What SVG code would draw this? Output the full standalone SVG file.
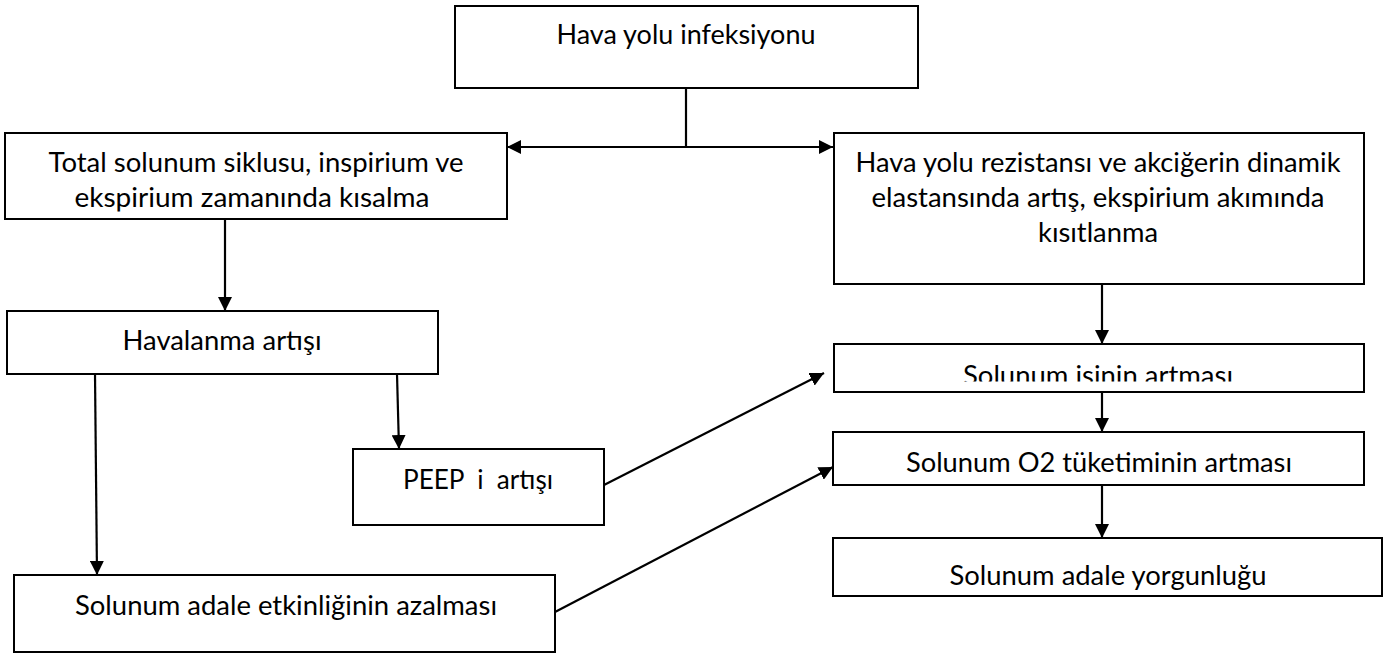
<svg xmlns="http://www.w3.org/2000/svg" width="1397" height="653" viewBox="0 0 1397 653">
<style>
.box{fill:#fff;stroke:#000;stroke-width:2}
.t{font-family:Lato,"Liberation Sans",sans-serif;font-size:26px;fill:#000;text-anchor:middle}
.c{fill:none;stroke:#000;stroke-width:2.2}
</style>
<defs>
<marker id="ah" markerWidth="14" markerHeight="14" refX="14" refY="7" orient="auto-start-reverse" markerUnits="userSpaceOnUse"><path d="M0,0 L14,7 L0,14 z" fill="#000"/></marker>
<clipPath id="clipA"><rect x="0" y="120" width="520" height="91.5"/></clipPath>
<clipPath id="clipB"><rect x="834" y="344" width="530" height="37.5"/></clipPath>
</defs>
<rect width="1397" height="653" fill="#fff"/>
<g id="connectors">
<path class="c" d="M686,88 V147"/>
<path class="c" d="M507,147 H833" marker-start="url(#ah)" marker-end="url(#ah)"/>
<path class="c" d="M225,219 V311" marker-end="url(#ah)"/>
<path class="c" d="M95,374 L97,575" marker-end="url(#ah)"/>
<path class="c" d="M397,374 L399,449" marker-end="url(#ah)"/>
<path class="c" d="M604,485 L824,373" marker-end="url(#ah)"/>
<path class="c" d="M555,612 L833,467" marker-end="url(#ah)"/>
<path class="c" d="M1102,284 V344" marker-end="url(#ah)"/>
<path class="c" d="M1102,392 V432" marker-end="url(#ah)"/>
<path class="c" d="M1102,485 V538" marker-end="url(#ah)"/>
</g>
<g id="n1"><rect class="box" x="455" y="6" width="463" height="82"/><text class="t" x="686" y="44" textLength="259" lengthAdjust="spacingAndGlyphs">Hava yolu infeksiyonu</text></g>
<g id="n2"><rect class="box" x="5" y="133" width="502" height="86"/>
<g clip-path="url(#clipA)"><text class="t" x="256" y="172" textLength="415" lengthAdjust="spacingAndGlyphs">Total solunum siklusu, inspirium ve</text>
<text class="t" x="252" y="207" textLength="355" lengthAdjust="spacingAndGlyphs">ekspirium zamanında kısalma</text></g></g>
<g id="n3"><rect class="box" x="834" y="133" width="530" height="151"/>
<text class="t" x="1098" y="172" textLength="485" lengthAdjust="spacingAndGlyphs">Hava yolu rezistansı ve akciğerin dinamik</text>
<text class="t" x="1098" y="207" textLength="453" lengthAdjust="spacingAndGlyphs">elastansında artış, ekspirium akımında</text>
<text class="t" x="1098" y="242" textLength="120" lengthAdjust="spacingAndGlyphs">kısıtlanma</text></g>
<g id="n4"><rect class="box" x="7" y="311" width="431" height="63"/><text class="t" x="222" y="350" textLength="199" lengthAdjust="spacingAndGlyphs">Havalanma artışı</text></g>
<g id="n5"><rect class="box" x="834" y="344" width="530" height="48"/><g clip-path="url(#clipB)"><text class="t" x="1098" y="385" textLength="270" lengthAdjust="spacingAndGlyphs">Solunum işinin artması</text></g></g>
<g id="n6"><rect class="box" x="833" y="432" width="531" height="53"/><text class="t" x="1099" y="472" textLength="386" lengthAdjust="spacingAndGlyphs">Solunum O2 tüketiminin artması</text></g>
<g id="n7"><rect class="box" x="833" y="538" width="549" height="58"/><text class="t" x="1108" y="585" textLength="317" lengthAdjust="spacingAndGlyphs">Solunum adale yorgunluğu</text></g>
<g id="n8"><rect class="box" x="353" y="449" width="251" height="76"/><text class="t" x="478" y="489" textLength="150" lengthAdjust="spacingAndGlyphs" xml:space="preserve">PEEP  i  artışı</text></g>
<g id="n9"><rect class="box" x="14" y="575" width="541" height="77"/><text class="t" x="286" y="615" textLength="422" lengthAdjust="spacingAndGlyphs">Solunum adale etkinliğinin azalması</text></g>
</svg>
